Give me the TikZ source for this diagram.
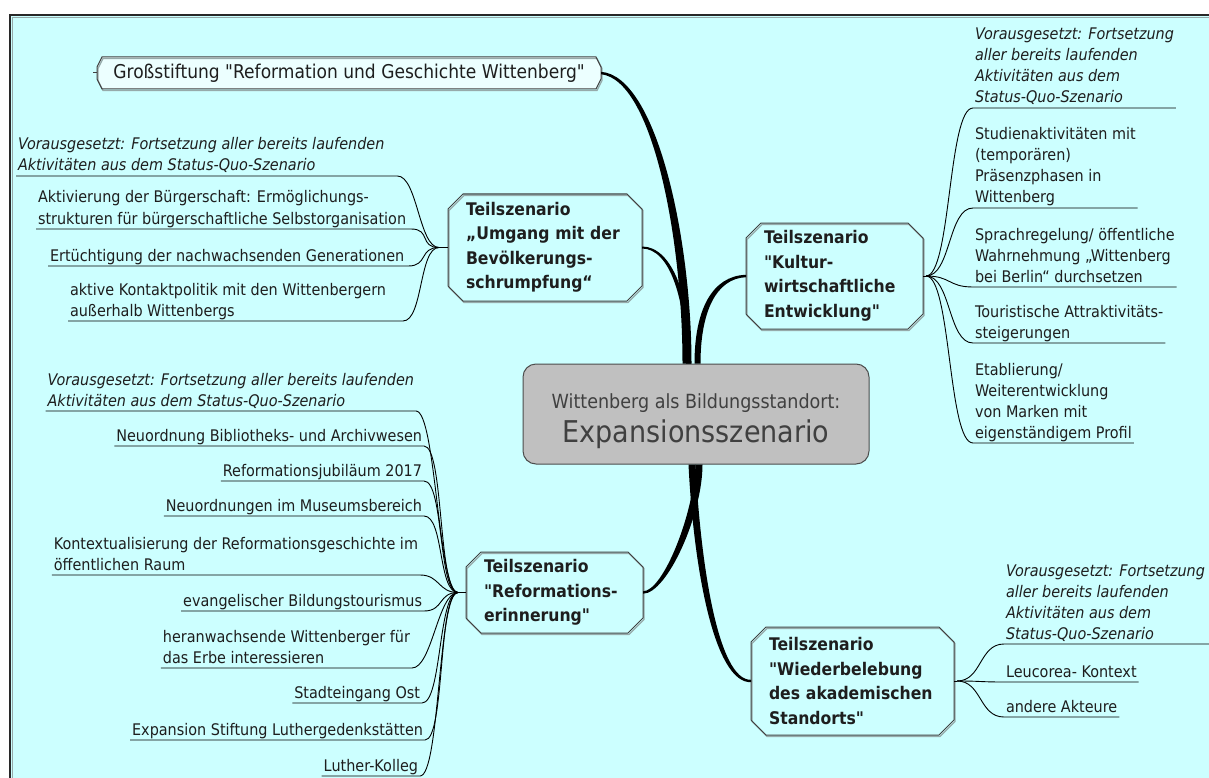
\documentclass[tikz,border=0pt]{standalone}
\usepackage{fontspec}
\newfontfamily\dvs{DejaVu Sans}[FakeStretch=0.9]
\usetikzlibrary{calc,backgrounds}
\definecolor{bgc}{RGB}{204,255,255}
\definecolor{boxfill}{RGB}{236,255,255}
\definecolor{txt}{RGB}{30,30,30}
\definecolor{ctxt}{RGB}{64,64,64}
\definecolor{cfill}{RGB}{192,192,192}
\definecolor{shad}{RGB}{150,170,170}
\definecolor{framec}{RGB}{40,40,40}
\newcommand\ustrut{\rule[-5pt]{0pt}{5pt}}
% node, cut x, cut y, shift x, shift y, style
\newcommand\octbox[6]{\path[#6] ($(#1.north west)+(#2pt+#4pt,#5pt)$) -- ($(#1.north east)+(-#2pt+#4pt,#5pt)$) -- ($(#1.north east)+(#4pt,-#3pt+#5pt)$) -- ($(#1.south east)+(#4pt,#3pt+#5pt)$) -- ($(#1.south east)+(-#2pt+#4pt,#5pt)$) -- ($(#1.south west)+(#2pt+#4pt,#5pt)$) -- ($(#1.south west)+(#4pt,#3pt+#5pt)$) -- ($(#1.north west)+(#4pt,-#3pt+#5pt)$) -- cycle;}
\begin{document}
\begin{tikzpicture}[x=1pt,y=-1pt,
  leafn/.style={inner xsep=2pt,inner ysep=0pt,outer sep=0pt,align=left,text=txt,font=\dvs\fontsize{16}{21}\selectfont,execute at end node=\ustrut},
  ileafn/.style={leafn,font=\dvs\fontsize{16}{21}\selectfont\itshape},
  topic/.style={inner xsep=18pt,inner ysep=0pt,outer sep=0pt,align=left,text=txt,font=\dvs\fontsize{17.4}{24.5}\selectfont\bfseries},
  thinl/.style={draw=black,line width=0.9pt},
  trunk/.style={fill=black},
  boxline/.style={draw=black!75,line width=1pt},
  boxshadow/.style={draw=shad,line width=1.2pt}]
\useasboundingbox (0,0) rectangle (1209,778);

% frame
\draw[framec,line width=2pt] (10,800) -- (10,15) -- (1230,15);
\draw[shad,line width=1.2pt] (12.2,800) -- (12.2,17.2) -- (1230,17.2);

% central node
\node[draw=black!70,line width=1pt,fill=cfill,rounded corners=13pt,minimum width=346pt,minimum height=100pt,align=center,text=ctxt,inner sep=0pt,font=\dvs\fontsize{19.5}{34}\selectfont] (root) at (696,414) {\rule{0pt}{30pt}Wittenberg als Bildungsstandort:\\{\fontsize{30}{34}\selectfont Expansionsszenario}};

% main topics
\node[inner sep=0pt,outer sep=0pt,minimum width=504pt,minimum height=32pt,text=txt,font=\dvs\fontsize{19}{22}\selectfont] (gross) at (349,73) {Großstiftung "Reformation und Geschichte Wittenberg"};
\node[topic,text width=158pt,minimum width=194pt,minimum height=107pt] (umg) at (545,247.5) {Teilszenario\\„Umgang mit der\\Bevölkerungs-\\schrumpfung“};
\node[topic,text width=141pt,minimum width=177pt,minimum height=106pt] (kult) at (834.5,276) {Teilszenario\\"Kultur-\\wirtschaftliche\\Entwicklung"};
\node[topic,text width=141pt,minimum width=177pt,minimum height=81pt] (refo) at (554.5,592.5) {Teilszenario\\"Reformations-\\erinnerung"};
\node[topic,text width=167pt,minimum width=203pt,minimum height=108pt] (wied) at (852.5,681) {Teilszenario\\"Wiederbelebung\\des akademischen\\Standorts"};

% box outlines
\octbox{gross}{5}{10}{1}{-1.5}{boxshadow}
\octbox{gross}{5}{10}{0}{0}{boxline}
\draw[boxline] ($(gross.west)+(-4pt,0pt)$) -- (gross.west);
\foreach \n in {umg,kult,refo,wied}{
  \octbox{\n}{15}{15}{1}{-1.5}{boxshadow}
  \octbox{\n}{15}{15}{0}{0}{boxline}
}

% trunks
\fill[trunk] ($(root.north)+(-13.5pt,0pt)$) .. controls (682.5,240) and (653,80) .. ($(gross.east)+(0pt,-1.2pt)$) -- ($(gross.east)+(0pt,1.2pt)$) .. controls (657,76) and (691.5,240) .. ($(root.north)+(-4.5pt,0pt)$) -- cycle;
\fill[trunk] ($(root.north)+(-10pt,0pt)$) .. controls (686,300) and (670,248.5) .. ($(umg.east)+(0pt,-1pt)$) -- ($(umg.east)+(0pt,1pt)$) .. controls (673,246.5) and (691,300) .. ($(root.north)+(-5pt,0pt)$) -- cycle;
\fill[trunk] ($(root.north)+(-1.5pt,0pt)$) .. controls (694.5,310) and (712,275.8) .. ($(kult.west)+(0pt,1.2pt)$) -- ($(kult.west)+(0pt,-1.2pt)$) .. controls (716,278.4) and (700.5,312) .. ($(root.north)+(4.5pt,0pt)$) -- cycle;
\fill[trunk] ($(root.south)+(-0.5pt,0pt)$) .. controls (693.5,515) and (663,591.3) .. ($(refo.east)+(0pt,1.2pt)$) -- ($(refo.east)+(0pt,-1.2pt)$) .. controls (667,593.7) and (702.5,515) .. ($(root.south)+(6.5pt,0pt)$) -- cycle;
\fill[trunk] ($(root.south)+(-7.5pt,0pt)$) .. controls (693.5,567) and (714,683.2) .. ($(wied.west)+(0pt,-1.2pt)$) -- ($(wied.west)+(0pt,1.2pt)$) .. controls (718,680.8) and (700.5,563) .. ($(root.south)+(-0.5pt,0pt)$) -- cycle;

% Umgang children
\node[ileafn,anchor=south west] (u0) at (16,176) {Vorausgesetzt: Fortsetzung aller bereits laufenden\\Aktivitäten aus dem Status-Quo-Szenario};
\node[leafn,anchor=south west] (u1) at (36,229) {Aktivierung der Bürgerschaft: Ermöglichungs-\\strukturen für bürgerschaftliche Selbstorganisation};
\node[leafn,anchor=south west] (u2) at (48,266) {Ertüchtigung der nachwachsenden Generationen};
\node[leafn,anchor=south west] (u3) at (68,321) {aktive Kontaktpolitik mit den Wittenbergern\\außerhalb Wittenbergs};
\coordinate (umgH) at ($(umg.west)+(-9pt,0pt)$);
\draw[thinl] (umg.west) -- (umgH);
\draw[thinl] (umgH) .. controls +(-20,0) and +(20,0) .. ($(u0.south east)+(11pt,0pt)$) -- (u0.south west);
\draw[thinl] (umgH) .. controls +(-20,0) and +(20,0) .. ($(u1.south east)+(3pt,0pt)$) -- (u1.south west);
\draw[thinl] (umgH) .. controls +(-20,0) and +(20,0) .. ($(u2.south east)+(2pt,0pt)$) -- (u2.south west);
\draw[thinl] (umgH) .. controls +(-20,0) and +(20,0) .. ($(u3.south east)+(15pt,0pt)$) -- (u3.south west);

% Kultur children
\node[ileafn,anchor=south west] (k0) at (973,108) {Vorausgesetzt: Fortsetzung\\aller bereits laufenden\\Aktivitäten aus dem\\Status-Quo-Szenario};
\node[leafn,anchor=south west] (k1) at (973,208) {Studienaktivitäten mit\\(temporären)\\Präsenzphasen in\\Wittenberg};
\node[leafn,anchor=south west] (k2) at (973,287) {Sprachregelung/ öffentliche\\Wahrnehmung „Wittenberg\\bei Berlin“ durchsetzen};
\node[leafn,anchor=south west] (k3) at (973,343) {Touristische Attraktivitäts-\\steigerungen};
\node[leafn,anchor=south west] (k4) at (973,443) {Etablierung/\\Weiterentwicklung\\von Marken mit\\eigenständigem Profil};
\coordinate (kulH) at ($(kult.east)+(3pt,0pt)$);
\draw[thinl] (kult.east) -- (kulH);
\foreach \c in {k0,k1,k2,k3,k4}{
  \draw[thinl] (kulH) .. controls +(25,0) and +(-25,0) .. (\c.south west) -- (\c.south east);
}

% Wiederbelebung children
\node[ileafn,anchor=south west] (w0) at (1004,644) {Vorausgesetzt: Fortsetzung\\aller bereits laufenden\\Aktivitäten aus dem\\Status-Quo-Szenario};
\node[leafn,anchor=south west] (w1) at (1004,682) {Leucorea- Kontext};
\node[leafn,anchor=south west] (w2) at (1004,717) {andere Akteure};
\coordinate (wieH) at ($(wied.east)+(3pt,0pt)$);
\draw[thinl] (wied.east) -- (wieH);
\draw[thinl] (wieH) .. controls +(25,0) and +(-25,0) .. (w0.south west) -- ($(w0.south east)+(30pt,0pt)$);
\draw[thinl] (wieH) .. controls +(25,0) and +(-25,0) .. (w1.south west) -- (w1.south east);
\draw[thinl] (wieH) .. controls +(25,0) and +(-25,0) .. (w2.south west) -- (w2.south east);

% Reformation children
\node[ileafn,anchor=south east] (r0) at (416,411) {Vorausgesetzt: Fortsetzung aller bereits laufenden\\Aktivitäten aus dem Status-Quo-Szenario};
\node[leafn,anchor=south east] (r1) at (424,446) {Neuordnung Bibliotheks- und Archivwesen};
\node[leafn,anchor=south east] (r2) at (424,481) {Reformationsjubiläum 2017};
\node[leafn,anchor=south east] (r3) at (424,516) {Neuordnungen im Museumsbereich};
\node[leafn,anchor=south east] (r4) at (420,575) {Kontextualisierung der Reformationsgeschichte im\\öffentlichen Raum};
\node[leafn,anchor=south east] (r5) at (424,611) {evangelischer Bildungstourismus};
\node[leafn,anchor=south east] (r6) at (412,668) {heranwachsende Wittenberger für\\das Erbe interessieren};
\node[leafn,anchor=south east] (r7) at (422,703) {Stadteingang Ost};
\node[leafn,anchor=south east] (r8) at (425,740) {Expansion Stiftung Luthergedenkstätten};
\node[leafn,anchor=south east] (r9) at (420,776) {Luther-Kolleg};
\coordinate (refH) at ($(refo.west)+(-8pt,0pt)$);
\draw[thinl] (refo.west) -- (refH);
\foreach \c in {r0,r1,r2,r3,r4,r5,r6,r7,r8,r9}{
  \draw[thinl] (refH) .. controls +(-20,0) and +(20,0) .. (\c.south east) -- (\c.south west);
}

% background layer
\begin{pgfonlayer}{background}
\fill[white] (0,0) rectangle (1209,778);
\fill[bgc] (9,14) rectangle (1230,800);
\octbox{gross}{5}{10}{0}{0}{fill=boxfill}
\end{pgfonlayer}
\end{tikzpicture}
\end{document}
